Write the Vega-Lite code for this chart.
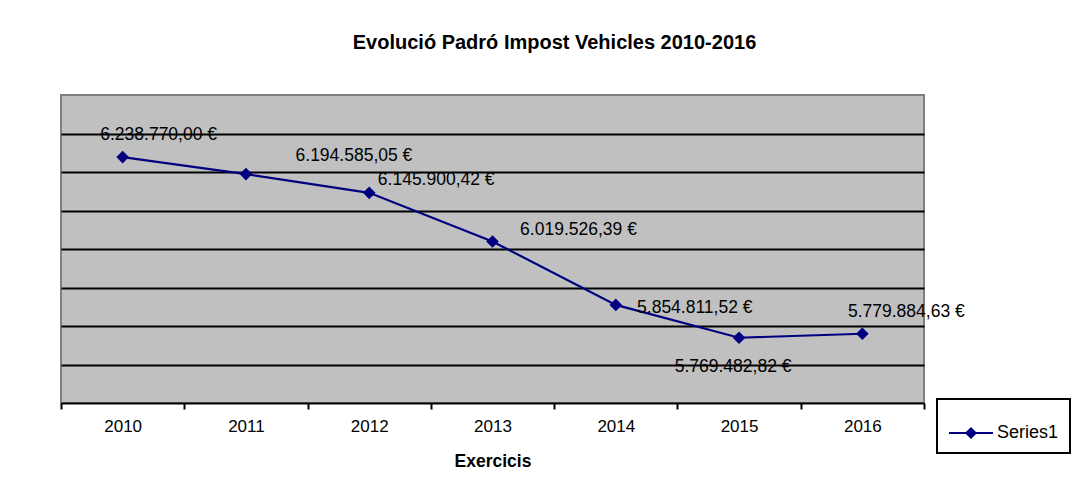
{
  "$schema": "https://vega.github.io/schema/vega-lite/v6.json",
  "autosize": {"type": "none"},
  "padding": {"left": 61, "top": 95, "right": 149, "bottom": 87},
  "width": 863,
  "height": 308,
  "background": "white",
  "config": {
    "font": "Liberation Sans",
    "locale": {
      "number": {"decimal": ",", "thousands": ".", "grouping": [3], "currency": ["", " €"]}
    },
    "view": {"fill": "#C0C0C0", "stroke": "#808080", "strokeWidth": 2}
  },
  "title": {
    "text": "Evolució Padró Impost Vehicles 2010-2016",
    "font": "Liberation Sans",
    "fontSize": 20,
    "fontWeight": "bold",
    "color": "black",
    "anchor": "middle",
    "frame": "group",
    "dx": 62,
    "offset": 42
  },
  "data": {
    "values": [
      {"year": "2010", "value": 6238770.00, "series": "Series1"},
      {"year": "2011", "value": 6194585.05, "series": "Series1"},
      {"year": "2012", "value": 6145900.42, "series": "Series1"},
      {"year": "2013", "value": 6019526.39, "series": "Series1"},
      {"year": "2014", "value": 5854811.52, "series": "Series1"},
      {"year": "2015", "value": 5769482.82, "series": "Series1"},
      {"year": "2016", "value": 5779884.63, "series": "Series1"}
    ]
  },
  "encoding": {
    "x": {
      "field": "year",
      "type": "nominal",
      "scale": {"type": "band", "paddingInner": 0, "paddingOuter": 0},
      "axis": {
        "title": "Exercicis",
        "titleFont": "Liberation Sans",
        "titleFontSize": 17.5,
        "titleFontWeight": "bold",
        "titleColor": "black",
        "titlePadding": 18,
        "labelAngle": 0,
        "labelFont": "Liberation Sans",
        "labelFontSize": 17,
        "labelColor": "black",
        "labelPadding": 9,
        "tickBand": "extent",
        "tickColor": "black",
        "tickSize": 6,
        "tickWidth": 2,
        "domainColor": "black",
        "domainWidth": 2,
        "grid": false
      }
    },
    "y": {
      "field": "value",
      "type": "quantitative",
      "scale": {"domain": [5600000, 6400000], "nice": false, "zero": false},
      "axis": {
        "title": null,
        "labels": false,
        "ticks": false,
        "domain": false,
        "grid": true,
        "gridColor": "black",
        "gridWidth": 2,
        "values": [5700000, 5800000, 5900000, 6000000, 6100000, 6200000, 6300000]
      }
    }
  },
  "layer": [
    {
      "mark": {"type": "line", "strokeWidth": 2.2},
      "encoding": {
        "color": {
          "field": "series",
          "type": "nominal",
          "scale": {"domain": ["Series1"], "range": ["#000080"]},
          "legend": {
            "title": null,
            "orient": "none",
            "legendX": 876,
            "legendY": 304,
            "padding": 11,
            "strokeColor": "black",
            "fillColor": "white",
            "labelFont": "Liberation Sans",
            "labelFontSize": 18,
            "labelColor": "black",
            "labelOffset": 3,
            "symbolType": "M-1,0L1,0M0,-0.21L0.21,0L0,0.21L-0.21,0Z",
            "symbolSize": 1936,
            "encode": {
              "legend": {
                "update": {
                  "strokeWidth": {"value": 2}
                }
              },
              "symbols": {
                "update": {
                  "fill": {"value": "#000080"},
                  "stroke": {"value": "#000080"},
                  "strokeWidth": {"value": 2},
                  "opacity": {"value": 1}
                }
              }
            }
          }
        }
      }
    },
    {
      "mark": {"type": "point", "shape": "diamond", "size": 160, "filled": true, "color": "#000080", "opacity": 1}
    },
    {
      "transform": [{"filter": "datum.year == '2010'"}],
      "mark": {"type": "text", "fontSize": 17.5, "color": "black", "align": "center", "baseline": "middle", "dx": 36, "dy": -22},
      "encoding": {"text": {"field": "value", "type": "quantitative", "format": "$,.2f"}}
    },
    {
      "transform": [{"filter": "datum.year == '2011'"}],
      "mark": {"type": "text", "fontSize": 17.5, "color": "black", "align": "center", "baseline": "middle", "dx": 108, "dy": -18},
      "encoding": {"text": {"field": "value", "type": "quantitative", "format": "$,.2f"}}
    },
    {
      "transform": [{"filter": "datum.year == '2012'"}],
      "mark": {"type": "text", "fontSize": 17.5, "color": "black", "align": "center", "baseline": "middle", "dx": 67, "dy": -13},
      "encoding": {"text": {"field": "value", "type": "quantitative", "format": "$,.2f"}}
    },
    {
      "transform": [{"filter": "datum.year == '2013'"}],
      "mark": {"type": "text", "fontSize": 17.5, "color": "black", "align": "center", "baseline": "middle", "dx": 86, "dy": -11},
      "encoding": {"text": {"field": "value", "type": "quantitative", "format": "$,.2f"}}
    },
    {
      "transform": [{"filter": "datum.year == '2014'"}],
      "mark": {"type": "text", "fontSize": 17.5, "color": "black", "align": "center", "baseline": "middle", "dx": 79, "dy": 3},
      "encoding": {"text": {"field": "value", "type": "quantitative", "format": "$,.2f"}}
    },
    {
      "transform": [{"filter": "datum.year == '2015'"}],
      "mark": {"type": "text", "fontSize": 17.5, "color": "black", "align": "center", "baseline": "middle", "dx": -6, "dy": 29},
      "encoding": {"text": {"field": "value", "type": "quantitative", "format": "$,.2f"}}
    },
    {
      "transform": [{"filter": "datum.year == '2016'"}],
      "mark": {"type": "text", "fontSize": 17.5, "color": "black", "align": "center", "baseline": "middle", "dx": 44, "dy": -22},
      "encoding": {"text": {"field": "value", "type": "quantitative", "format": "$,.2f"}}
    }
  ]
}
